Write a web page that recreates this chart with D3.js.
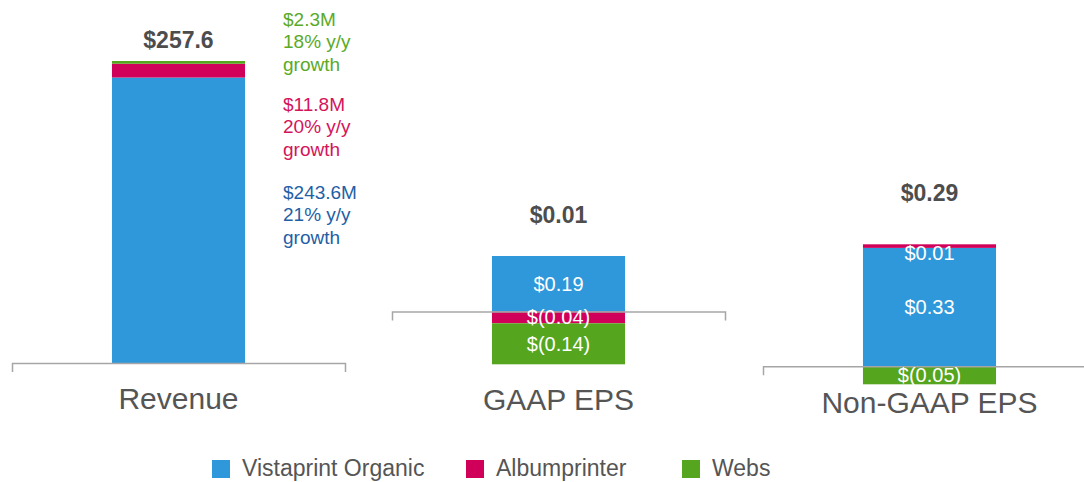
<!DOCTYPE html>
<html>
<head>
<meta charset="utf-8">
<script src="https://d3js.org/d3.v7.min.js"></script>
<style>
  body { margin: 0; background: #fff; }
  svg { display: block; font-family: "Liberation Sans", Arial, sans-serif; }
  .axis path { stroke: #a6a6a6; stroke-width: 1.5; }
</style>
</head>
<body>
<svg id="chart" width="1084" height="482"></svg>
<script>
// data
const panels = ["Revenue", "GAAP EPS", "Non-GAAP EPS"];
const seriesNames = ["Vistaprint Organic", "Albumprinter", "Webs"];
const revenueValues = [243.6, 11.8, 2.3];
const gaapValues = [0.19, -0.04, -0.14];
const nonGaapValues = [0.33, 0.01, -0.05];
const totalLabels = ["$257.6", "$0.01", "$0.29"];
const revenueNotes = [
    ["$243.6M", "21% y/y", "growth"],
    ["$11.8M", "20% y/y", "growth"],
    ["$2.3M", "18% y/y", "growth"]
];

const colors = ["#2e98da", "#d0005a", "#55a51e"];
const noteColors = ["#1f5fa6", "#d4145a", "#5aaa28"];

// layout of each little panel (axis extent, vertical range of the stack, label baselines)
const layout = [
    {x0: 12, x1: 345, top: 61, bottom: 363, totalY: 48, nameY: 409},
    {x0: 392, x1: 725, top: 256, bottom: 364.3, totalY: 223, nameY: 410},
    {x0: 763, x1: 1096, top: 244.3, bottom: 384.3, totalY: 201, nameY: 413}
];

const svg = d3.select("#chart");

const fmtEps = v => v < 0 ? `$(${d3.format(".2f")(-v)})` : `$${d3.format(".2f")(v)}`;

function drawPanel(i, values, showSegLabels) {
    const box = layout[i];
    const row = {name: panels[i]};
    seriesNames.forEach((s, j) => row[s] = values[j]);

    const stacked = d3.stack()
        .keys(seriesNames)
        .offset(d3.stackOffsetDiverging)([row]);

    const lo = d3.min(stacked, s => s[0][0]);
    const hi = d3.max(stacked, s => s[0][1]);

    const x = d3.scaleBand().domain([panels[i]]).range([box.x0, box.x1]).padding(0.429);
    const y = d3.scaleLinear().domain([lo, hi]).range([box.bottom, box.top]);

    const g = svg.append("g");

    g.selectAll("rect")
        .data(stacked)
        .join("rect")
        .attr("x", x(panels[i]))
        .attr("width", x.bandwidth())
        .attr("y", d => y(d[0][1]))
        .attr("height", d => y(d[0][0]) - y(d[0][1]))
        .attr("fill", (d, j) => colors[j]);

    // baseline with end ticks going down
    g.append("g")
        .attr("class", "axis")
        .attr("transform", `translate(0,${y(0)})`)
        .call(d3.axisBottom(x).tickValues([]).tickSizeOuter(9));

    if (showSegLabels) {
        g.selectAll(".seg")
            .data(stacked)
            .join("text")
            .attr("class", "seg")
            .attr("x", x(panels[i]) + x.bandwidth() / 2)
            .attr("y", d => {
                const h = y(d[0][0]) - y(d[0][1]);
                return h < 6 ? y(d[0][1]) + 16 : (y(d[0][0]) + y(d[0][1])) / 2 + 7;
            })
            .attr("text-anchor", "middle")
            .attr("font-size", 20)
            .attr("fill", "#fff")
            .text((d, j) => fmtEps(values[j]));
    }

    g.append("text")
        .attr("x", x(panels[i]) + x.bandwidth() / 2)
        .attr("y", box.totalY)
        .attr("text-anchor", "middle")
        .attr("font-size", 23)
        .attr("font-weight", "bold")
        .attr("fill", "#4d4d4d")
        .text(totalLabels[i]);

    g.append("text")
        .attr("x", (box.x0 + Math.min(box.x1, 1096)) / 2)
        .attr("y", box.nameY)
        .attr("text-anchor", "middle")
        .attr("font-size", 30)
        .attr("fill", "#555")
        .text(panels[i]);

    return {x, y};
}

drawPanel(0, revenueValues, false);
drawPanel(1, gaapValues, true);
drawPanel(2, nonGaapValues, true);

// revenue notes next to the bar
const noteTops = [199, 110.7, 26];
revenueNotes.forEach((lines, j) => {
    const t = svg.append("text")
        .attr("x", 283)
        .attr("y", noteTops[j])
        .attr("font-size", 19)
        .attr("fill", noteColors[j]);
    lines.forEach((l, k) => {
        t.append("tspan").attr("x", 283).attr("dy", k === 0 ? 0 : 22.4).text(l);
    });
});

// legend
const legendX = [212, 466, 682];
const legend = svg.append("g").selectAll("g")
    .data(seriesNames)
    .join("g")
    .attr("transform", (d, j) => `translate(${legendX[j]},460)`);

legend.append("rect")
    .attr("width", 18)
    .attr("height", 18)
    .attr("fill", (d, j) => colors[j]);

legend.append("text")
    .attr("x", 30)
    .attr("y", 16)
    .attr("font-size", 23)
    .attr("fill", "#555")
    .text(d => d);
</script>
</body>
</html>
